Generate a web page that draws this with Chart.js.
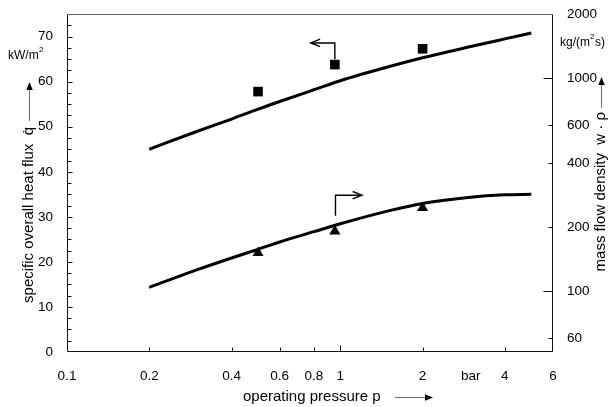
<!DOCTYPE html>
<html><head><meta charset="utf-8">
<script src="https://cdn.jsdelivr.net/npm/chart.js@4/dist/chart.umd.min.js"></script>
<style>html,body{margin:0;padding:0;background:#fff}#wrap{width:610px;height:407px;position:relative}</style>
</head><body><div id="wrap"><canvas id="c" width="610" height="407"></canvas></div>
<script>
// ---- data ----
const pressureCurve = [0.2, 0.3, 0.4, 0.5, 0.6, 0.8, 1, 1.5, 2, 3, 4, 5];
const heatFluxCurve = [45.0, 49.0, 51.7, 53.9, 55.6, 58.2, 60.2, 63.3, 65.3, 67.8, 69.5, 70.8];
const massFlowCurve = [104, 126, 143, 157, 170, 190, 207, 238, 258, 276, 283, 285];
const pressureMeasured = [0.5, 0.955, 2.0];
const heatFluxMeasured = [57.8, 63.8, 67.3];
const massFlowMeasured = [151, 191, 246];
const xTickValues = [0.1, 0.2, 0.4, 0.6, 0.8, 1, 2, 3, 4, 6];
const xTickLabels = ['0.1', '0.2', '0.4', '0.6', '0.8', '1', '2', 'bar', '4', '6'];
const leftTickValues = [0, 10, 20, 30, 40, 50, 60, 70];
const rightTickValues = [60, 100, 200, 400, 600, 1000, 2000];

// annotation arrows (data units)
const heatArrow = { x: 0.955, from: 65.0, to: 68.6, tip: 0.78 };
const massArrow = { x: 0.96, from: 226, to: 282, tip: 1.2 };

const FONT = '"Liberation Sans", Arial, Helvetica, sans-serif';
const pts = (xs, ys) => xs.map((x, i) => ({ x: x, y: ys[i] }));

function chevron(ctx, x, y, dir) {
  const L = 10, a = 0.38;
  ctx.beginPath();
  ctx.moveTo(x - L * Math.cos(dir - a), y - L * Math.sin(dir - a));
  ctx.lineTo(x, y);
  ctx.lineTo(x - L * Math.cos(dir + a), y - L * Math.sin(dir + a));
  ctx.stroke();
}
function filledHead(ctx, x, y, dir) {
  const L = 8, w = 3.2;
  ctx.beginPath();
  ctx.moveTo(x, y);
  ctx.lineTo(x - L * Math.cos(dir) - w * Math.sin(dir), y - L * Math.sin(dir) + w * Math.cos(dir));
  ctx.lineTo(x - L * Math.cos(dir) + w * Math.sin(dir), y - L * Math.sin(dir) - w * Math.cos(dir));
  ctx.closePath();
  ctx.fill();
}

const decor = {
  id: 'decor',
  afterDraw(chart) {
    const ctx = chart.ctx;
    const { left, right, top, bottom } = chart.chartArea;
    const xs = chart.scales.x, ys = chart.scales.y, y2 = chart.scales.y2;
    const L = Math.round(left) + 0.5, R = Math.round(right) - 0.5, T = Math.round(top) + 0.5, B = Math.round(bottom) - 0.5;
    ctx.save();
    ctx.lineWidth = 1;
    ctx.strokeStyle = '#666';
    ctx.beginPath(); ctx.moveTo(L, T); ctx.lineTo(R, T); ctx.stroke();
    ctx.strokeStyle = '#111';
    ctx.beginPath();
    ctx.moveTo(L, T); ctx.lineTo(L, B); ctx.lineTo(R, B); ctx.lineTo(R, T);
    ctx.stroke();
    ctx.beginPath();
    for (let v = 2.5; v < 75; v += 2.5) {
      const py = Math.round(ys.getPixelForValue(v)) + 0.5;
      const len = leftTickValues.includes(v) ? 5 : 4;
      ctx.moveTo(L, py); ctx.lineTo(L + len, py);
    }
    rightTickValues.forEach(v => {
      if (v >= 2000) return;
      const py = Math.round(y2.getPixelForValue(v)) + 0.5;
      const len = (v === 100 || v === 1000) ? 9 : 4;
      ctx.moveTo(R, py); ctx.lineTo(R - len, py);
    });
    xTickValues.forEach(v => {
      if (v <= 0.1 || v >= 6 || v === 3) return;
      const px = Math.round(xs.getPixelForValue(v)) + 0.5;
      const len = v === 1 ? 6 : 4;
      ctx.moveTo(px, B); ctx.lineTo(px, B - len);
    });
    ctx.stroke();

    ctx.strokeStyle = '#000';
    ctx.lineWidth = 1.4;
    let ax = xs.getPixelForValue(heatArrow.x), ay0 = ys.getPixelForValue(heatArrow.from), ay1 = ys.getPixelForValue(heatArrow.to), tip = xs.getPixelForValue(heatArrow.tip);
    ctx.beginPath(); ctx.moveTo(ax, ay0); ctx.lineTo(ax, ay1); ctx.lineTo(tip, ay1); ctx.stroke();
    chevron(ctx, tip, ay1, Math.PI);
    ax = xs.getPixelForValue(massArrow.x); ay0 = y2.getPixelForValue(massArrow.from); ay1 = y2.getPixelForValue(massArrow.to); tip = xs.getPixelForValue(massArrow.tip);
    ctx.beginPath(); ctx.moveTo(ax, ay0); ctx.lineTo(ax, ay1); ctx.lineTo(tip, ay1); ctx.stroke();
    chevron(ctx, tip, ay1, 0);

    ctx.fillStyle = '#000';
    ctx.font = '15px ' + FONT;
    ctx.textBaseline = 'middle';
    ctx.textAlign = 'left';
    ctx.fillText('operating pressure p', 243, 397);
    ctx.strokeStyle = '#777'; ctx.lineWidth = 1.2;
    ctx.beginPath(); ctx.moveTo(395, 397.5); ctx.lineTo(426, 397.5); ctx.stroke();
    filledHead(ctx, 433, 397.5, 0);

    ctx.save();
    ctx.translate(29, 127);
    ctx.rotate(-Math.PI / 2);
    ctx.textAlign = 'right';
    ctx.fillText('specific overall heat flux  q\u0307', 0, 0);
    ctx.restore();
    ctx.beginPath(); ctx.moveTo(29.5, 121); ctx.lineTo(29.5, 88); ctx.stroke();
    filledHead(ctx, 29.5, 82, -Math.PI / 2);

    ctx.save();
    ctx.translate(601, 112);
    ctx.rotate(-Math.PI / 2);
    ctx.textAlign = 'right';
    ctx.fillText('mass flow density  w \u00b7 \u03c1', 0, 0);
    ctx.restore();
    ctx.beginPath(); ctx.moveTo(601.5, 108); ctx.lineTo(601.5, 83); ctx.stroke();
    filledHead(ctx, 601.5, 77, -Math.PI / 2);

    ctx.font = '12px ' + FONT;
    ctx.textAlign = 'left';
    ctx.fillText('kW/m', 8, 56);
    ctx.font = '8px ' + FONT;
    ctx.fillText('2', 39, 50);
    ctx.font = '12px ' + FONT;
    ctx.fillText('kg/(m', 560, 43);
    let w = ctx.measureText('kg/(m').width;
    ctx.font = '8px ' + FONT;
    ctx.fillText('2', 560 + w, 37);
    ctx.font = '12px ' + FONT;
    ctx.fillText('s)', 560 + w + 5, 43);
    ctx.restore();
  }
};

const tickFont = { family: FONT, size: 13.5 };

new Chart(document.getElementById('c'), {
  type: 'scatter',
  data: {
    datasets: [
      { data: pts(pressureCurve, heatFluxCurve), yAxisID: 'y', showLine: true, borderColor: '#000', borderWidth: 3, pointRadius: 0, cubicInterpolationMode: 'monotone' },
      { data: pts(pressureMeasured, heatFluxMeasured), yAxisID: 'y', showLine: false, pointStyle: 'rect', pointRadius: 6.8, backgroundColor: '#000', borderColor: '#000', borderWidth: 0 },
      { data: pts(pressureCurve, massFlowCurve), yAxisID: 'y2', showLine: true, borderColor: '#000', borderWidth: 3, pointRadius: 0, cubicInterpolationMode: 'monotone' },
      { data: pts(pressureMeasured, massFlowMeasured), yAxisID: 'y2', showLine: false, pointStyle: 'triangle', pointRadius: 6.4, backgroundColor: '#000', borderColor: '#000', borderWidth: 0 }
    ]
  },
  options: {
    responsive: false, animation: false, devicePixelRatio: 1,
    layout: { padding: { top: 9, left: 0, right: 0, bottom: 0 } },
    plugins: { legend: { display: false }, tooltip: { enabled: false } },
    scales: {
      x: {
        type: 'logarithmic', min: 0.1, max: 6,
        afterBuildTicks: s => { s.ticks = xTickValues.map(v => ({ value: v })); },
        afterFit: s => { s.height = 55; },
        ticks: { autoSkip: false, maxRotation: 0, padding: 8, color: '#000', font: tickFont,
          callback: (v, i) => xTickLabels[i] },
        grid: { display: false }, border: { display: false }
      },
      y: {
        type: 'linear', position: 'left', min: 0, max: 75,
        afterBuildTicks: s => { s.ticks = leftTickValues.map(v => ({ value: v })); },
        afterFit: s => { s.width = 67; },
        ticks: { autoSkip: false, padding: 6, color: '#000', font: tickFont, callback: v => String(v) },
        grid: { display: false }, border: { display: false }
      },
      y2: {
        type: 'logarithmic', position: 'right', min: 51.7, max: 2000,
        afterBuildTicks: s => { s.ticks = rightTickValues.map(v => ({ value: v })); },
        afterFit: s => { s.width = 57; },
        ticks: { autoSkip: false, padding: 6, color: '#000', font: tickFont, callback: v => String(v) },
        grid: { display: false }, border: { display: false }
      }
    }
  },
  plugins: [decor]
});
</script>
</body></html>
